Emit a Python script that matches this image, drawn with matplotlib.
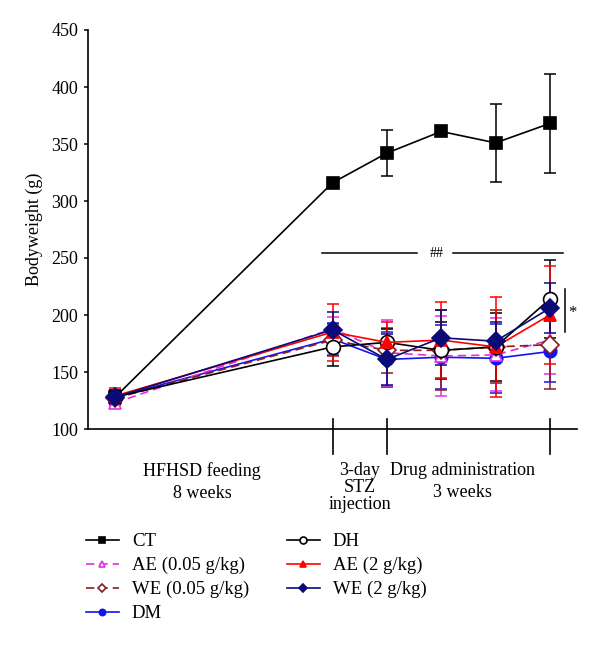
import matplotlib
matplotlib.use("Agg")
import matplotlib.pyplot as plt
import matplotlib.transforms as mtransforms

plt.rcParams['font.family'] = ['Liberation Serif', 'DejaVu Serif']

# ---- data ----
x_pos = [0, 4, 5, 6, 7, 8]
series_names = ["CT", "AE (0.05 g/kg)", "WE (0.05 g/kg)", "DM", "DH", "AE (2 g/kg)", "WE (2 g/kg)"]
ct = [128, 316, 342, 361, 351, 368]
ct_err = [5, 4, 20, 3, 34, 43]
dh = [128, 172, 176, 169, 172, 214]
dh_err = [6, 17, 12, 25, 30, 34]
ae05 = [123, 188, 167, 164, 165, 178]
ae05_err = [5, 10, 29, 35, 32, 30]
ae2 = [129, 185, 176, 178, 172, 200]
ae2_err = [7, 25, 18, 33, 44, 43]
we05 = [127, 178, 169, 169, 172, 174]
we05_err = [6, 14, 20, 35, 32, 39]
we2 = [128, 187, 161, 180, 177, 206]
we2_err = [6, 16, 22, 24, 17, 22]
dm = [128, 179, 161, 163, 162, 168]
dm_err = [5, 14, 24, 28, 30, 27]
y_ticks = [100, 150, 200, 250, 300, 350, 400, 450]
stage_bounds = [4, 5, 8]
stage_labels = ["HFHSD feeding\n8 weeks", "3-day\nSTZ\ninjection", "Drug administration\n3 weeks"]
stage_label_x = [1.6, 4.5, 6.4]
stage_linespacing = [1.4, 1.0, 1.4]
sig_line_y = 254
sig_line_x = [3.8, 8.24]
sig_label_x = 5.92
star_bracket = [185, 223]

fig = plt.figure(figsize=(6.0, 6.51), dpi=100)
ax = fig.add_axes([88/600, 1-429/651, (577-88)/600, (429-30)/651])

FS = 13
styles = {
    "CT": dict(color="black", marker="s", mfc="black", ls="-", ms=9, data=ct, err=ct_err),
    "DM": dict(color="#1414F0", marker="o", mfc="#1414F0", ls="-", ms=9, data=dm, err=dm_err),
    "AE (0.05 g/kg)": dict(color="#E030E0", marker="^", mfc="white", ls=(0, (5, 3)), ms=9, data=ae05, err=ae05_err),
    "WE (0.05 g/kg)": dict(color="#8B1C1C", marker="D", mfc="white", ls=(0, (5, 3)), ms=9, data=we05, err=we05_err),
    "DH": dict(color="black", marker="o", mfc="white", ls="-", ms=10, data=dh, err=dh_err),
    "AE (2 g/kg)": dict(color="#FF0000", marker="^", mfc="#FF0000", ls="-", ms=9, data=ae2, err=ae2_err),
    "WE (2 g/kg)": dict(color="#0A0A78", marker="D", mfc="#0A0A78", ls="-", ms=9, data=we2, err=we2_err),
}
draw_order = ["CT", "DM", "AE (0.05 g/kg)", "WE (0.05 g/kg)", "DH", "AE (2 g/kg)", "WE (2 g/kg)"]
handles = {}
for name in draw_order:
    s = styles[name]
    ax.errorbar(x_pos, s["data"], yerr=s["err"], fmt="none", ecolor=s["color"],
                elinewidth=1.1, capsize=4.5, capthick=1.1, zorder=2)
    ln, = ax.plot(x_pos, s["data"], color=s["color"], ls=s["ls"], lw=1.2,
                  marker=s["marker"], mfc=s["mfc"], mec=s["color"], ms=s["ms"],
                  mew=1.2, zorder=3, label=name)
    handles[name] = ln

ax.set_xlim(-0.5, 8.5)
ax.set_ylim(100, 450)
ax.set_yticks(y_ticks)
ax.tick_params(axis='y', labelsize=FS, length=3, width=1.1, direction='out', pad=4)
ax.set_xticks([])
for sp in ["top", "right"]:
    ax.spines[sp].set_visible(False)
for sp in ["left", "bottom"]:
    ax.spines[sp].set_linewidth(1.2)
ax.set_ylabel("Bodyweight (g)", fontsize=FS, labelpad=6)

# stage boundary ticks crossing the x axis
trans = mtransforms.blended_transform_factory(ax.transData, ax.transAxes)
for b in stage_bounds:
    ax.plot([b, b], [0.024, -0.062], transform=trans, color="black", lw=1.2, clip_on=False)
for lab, lx, lsp in zip(stage_labels, stage_label_x, stage_linespacing):
    ax.text(lx, -0.082, lab, transform=trans, ha="center", va="top", fontsize=FS,
            linespacing=lsp)

# significance annotations
ax.plot([sig_line_x[0], 5.55], [sig_line_y, sig_line_y], color="black", lw=1.1)
ax.plot([6.22, sig_line_x[1]], [sig_line_y, sig_line_y], color="black", lw=1.1)
ax.text(sig_label_x, sig_line_y, "##", ha="center", va="center", fontsize=10)
ax.plot([8.27, 8.27], star_bracket, color="black", lw=1.1)
ax.text(8.42, 202, "*", ha="center", va="center", fontsize=12)

leg_order = ["CT", "AE (0.05 g/kg)", "WE (0.05 g/kg)", "DM", "DH", "AE (2 g/kg)", "WE (2 g/kg)"]
fig.legend([handles[n] for n in leg_order], leg_order, ncol=2, loc="upper left",
           bbox_to_anchor=(86/600, 1-533/651), frameon=False, fontsize=13.5,
           handlelength=1.75, handletextpad=0.7, columnspacing=2.0,
           labelspacing=0.36, markerscale=0.5, borderpad=0, borderaxespad=0)

fig.savefig("out.png", dpi=100)
